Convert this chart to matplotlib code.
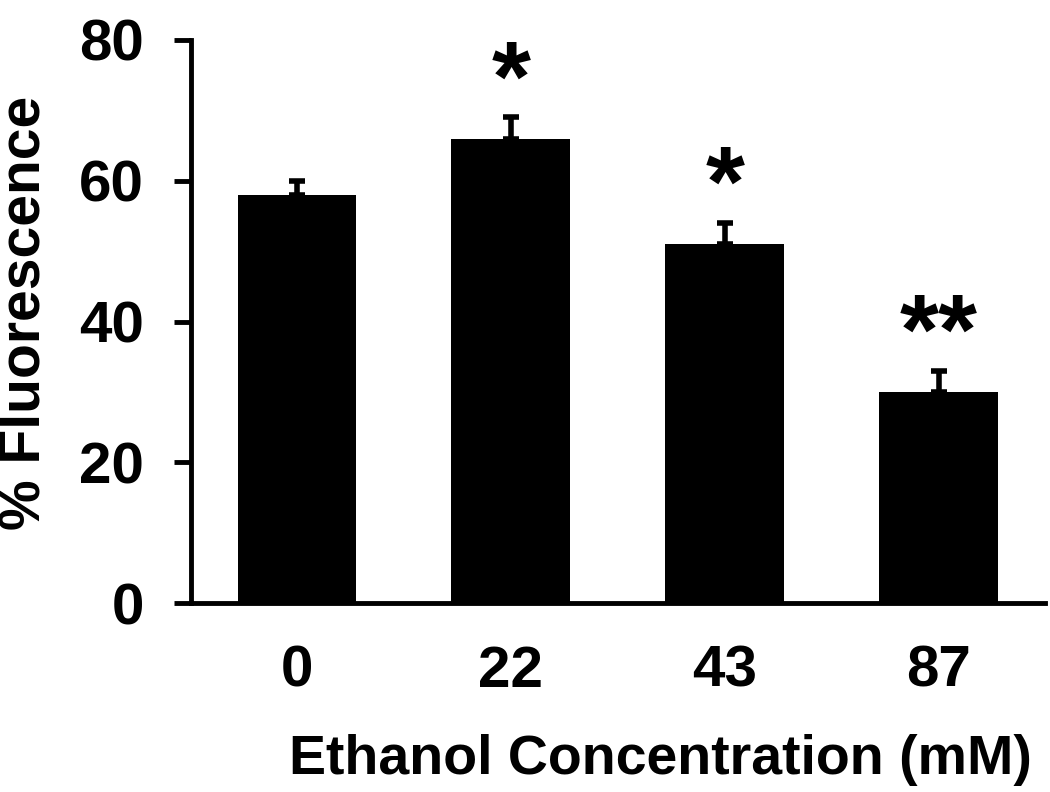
import matplotlib
matplotlib.use("Agg")
import matplotlib.pyplot as plt

CONCENTRATIONS = ["0", "22", "43", "87"]
FLUORESCENCE = [58, 66, 51, 30]
SEM = [2, 3, 3, 3]
SIGNIFICANCE = ["", "*", "*", "**"]

plt.rcParams["font.family"] = ["Liberation Sans", "DejaVu Sans"]
plt.rcParams["font.weight"] = "bold"

fig = plt.figure(figsize=(10.5, 7.92), dpi=100)
ax = fig.add_axes([0.182, 0.2386, 0.813, 0.7109])

x = list(range(len(CONCENTRATIONS)))
ax.bar(x, FLUORESCENCE, width=0.556, color="black", zorder=2)
ax.errorbar(x, FLUORESCENCE, yerr=[[0] * len(SEM), SEM], fmt="none",
            ecolor="black", elinewidth=4, capsize=6, capthick=4, zorder=1)

# significance marks just above the error bars
for xi, val, err, mark in zip(x, FLUORESCENCE, SEM, SIGNIFICANCE):
    if mark:
        ax.annotate(mark, (xi, val + err), xytext=(0, -10), textcoords="offset points",
                    ha="center", va="bottom", fontsize=72, fontweight="bold")

ax.set_xlim(-0.495, 3.495)
ax.set_ylim(0, 80)
ax.set_yticks([0, 20, 40, 60, 80])
ax.set_xticks(x)
ax.set_xticklabels(CONCENTRATIONS)

for side in ("top", "right"):
    ax.spines[side].set_visible(False)
for side in ("left", "bottom"):
    ax.spines[side].set_linewidth(3.5)

ax.tick_params(axis="y", length=12, width=3.5, pad=22, labelsize=42)
ax.tick_params(axis="x", length=0, pad=30, labelsize=42)

ax.set_xlabel("Ethanol Concentration (mM)", fontsize=40, fontweight="bold", ha="right")
ax.xaxis.set_label_coords(0.985, -0.233)
ax.set_ylabel("% Fluorescence", fontsize=41, fontweight="bold")
ax.yaxis.set_label_coords(-0.163, 0.515)

fig.savefig("out.png", dpi=100)
